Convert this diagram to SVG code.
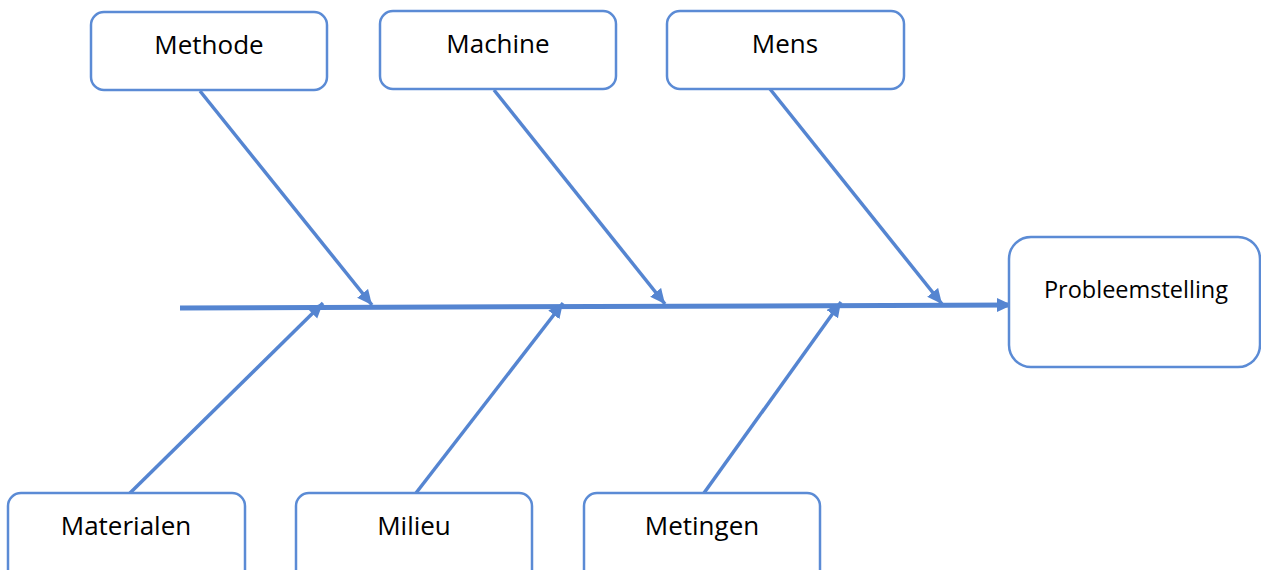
<svg xmlns="http://www.w3.org/2000/svg" width="1261" height="570" viewBox="0 0 1261 570">
  <style>
    .box { fill: #ffffff; stroke: #5B8BD5; stroke-width: 2.5; }
    .lbl { font-family: "Open Sans", "Liberation Sans", sans-serif; font-size: 26px; fill: #000000; text-anchor: middle; }
    .lbl-sm { font-size: 23.5px; }
    .bone { stroke: #5585D1; stroke-width: 3.5; fill: none; marker-end: url(#head); }
    .spine { stroke: #5585D1; stroke-width: 5; fill: none; marker-end: url(#head-lg); }
  </style>
  <defs>
    <marker id="head" markerUnits="userSpaceOnUse" markerWidth="18" markerHeight="16" refX="15" refY="7" orient="auto">
      <path d="M0,0 L15,7 L0,14 Z" fill="#5585D1"/>
    </marker>
    <marker id="head-lg" markerUnits="userSpaceOnUse" markerWidth="18" markerHeight="16" refX="15" refY="7" orient="auto">
      <path d="M0,0 L15,7 L0,14 Z" fill="#5585D1"/>
    </marker>
  </defs>

  <!-- cause and effect connectors -->
  <g id="connectors">
    <line class="spine" x1="180" y1="308" x2="1012" y2="305"/>
    <line class="bone" x1="200" y1="91" x2="372" y2="305"/>
    <line class="bone" x1="494" y1="90" x2="665" y2="304"/>
    <line class="bone" x1="770" y1="89" x2="942" y2="304"/>
    <line class="bone" x1="128" y1="495" x2="323" y2="303"/>
    <line class="bone" x1="416" y1="493" x2="563" y2="303"/>
    <line class="bone" x1="704" y1="493" x2="841" y2="302"/>
  </g>

  <g id="methode">
    <rect class="box" x="91" y="12" width="236" height="78" rx="13"/>
    <text class="lbl" x="209" y="54">Methode</text>
  </g>
  <g id="machine">
    <rect class="box" x="380" y="11" width="236" height="78" rx="13"/>
    <text class="lbl" x="498" y="53">Machine</text>
  </g>
  <g id="mens">
    <rect class="box" x="667" y="11" width="237" height="78" rx="13"/>
    <text class="lbl" x="785" y="53">Mens</text>
  </g>
  <g id="probleemstelling">
    <rect class="box" x="1009" y="237" width="251" height="130" rx="22"/>
    <text class="lbl lbl-sm" x="1136" y="298">Probleemstelling</text>
  </g>
  <g id="materialen">
    <rect class="box" x="8" y="493" width="237" height="90" rx="13"/>
    <text class="lbl" x="126" y="535">Materialen</text>
  </g>
  <g id="milieu">
    <rect class="box" x="296" y="493" width="236" height="90" rx="13"/>
    <text class="lbl" x="414" y="535">Milieu</text>
  </g>
  <g id="metingen">
    <rect class="box" x="584" y="493" width="236" height="90" rx="13"/>
    <text class="lbl" x="702" y="535">Metingen</text>
  </g>
</svg>
